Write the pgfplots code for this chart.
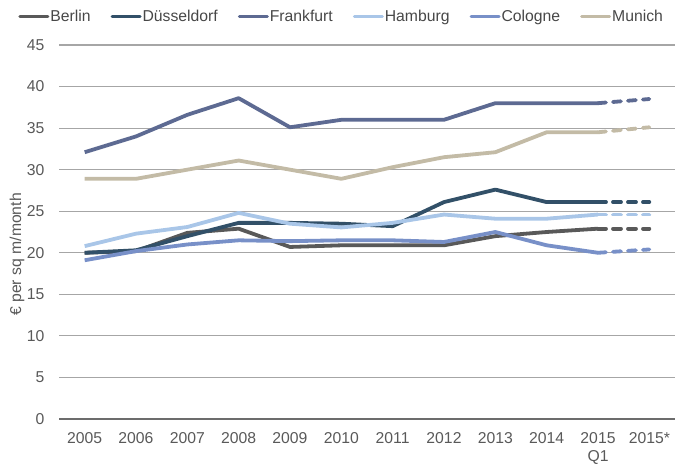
\documentclass[border=0pt]{standalone}
\usepackage{pgfplots}
\pgfplotsset{compat=1.18}
\usepackage{fontspec}
\setmainfont{Liberation Sans}

\definecolor{cBer}{HTML}{595959}
\definecolor{cDus}{HTML}{325068}
\definecolor{cFra}{HTML}{5D6A92}
\definecolor{cHam}{HTML}{A9C6E8}
\definecolor{cCol}{HTML}{7890C8}
\definecolor{cMun}{HTML}{C3BBA6}
\definecolor{txt}{HTML}{595959}
\definecolor{grd}{HTML}{A6A6A6}

\begin{document}
\begin{tikzpicture}
\path[use as bounding box] (-59bp,-48bp) rectangle (616bp,419bp);
\begin{axis}[
    scale only axis, width=616bp, height=374bp,
    xmin=-0.5, xmax=11.5, ymin=0, ymax=45,
    xtick={0,...,11},
    xticklabels={2005,2006,2007,2008,2009,2010,2011,2012,2013,2014,{2015\\Q1},2015*},
    ytick={0,5,...,45},
    font=\fontsize{15.8}{18}\selectfont,
    /pgf/number format/assume math mode=true,
    tick label style={text=txt},
    xticklabel style={align=center, yshift=-10bp},
    yticklabel style={xshift=-11bp},
    major tick length=0pt,
    axis x line*=bottom, axis y line*=left,
    x axis line style={draw=gray!85!black, line width=1.3bp, -},
    y axis line style={draw=none},
    ymajorgrids, grid style={draw=grd, line width=1.1bp},
    every axis y label/.style={at={(axis description cs:0,0.44)}, xshift=-42bp, rotate=90, anchor=center, text=txt},
    ylabel={€ per sq m/month},
    legend columns=6,
    legend style={draw=none, fill=none, at={(0.458,1.075)}, anchor=center,
        text=black!72, nodes={inner xsep=1bp},
        /tikz/every even column/.append style={column sep=19bp}},
    legend image code/.code={\draw[#1, line width=3bp, line cap=round] (0bp,0bp) -- (28bp,0bp);},
    every axis plot/.append style={line width=3.8bp, line join=round},
    clip=false,
]
% 2005 ... 2015 Q1 (0..10), 2015* (11) dashed
\addplot[cBer] coordinates {(0,20.0)(1,20.2)(2,22.4)(3,22.9)(4,20.7)(5,20.9)(6,20.9)(7,20.9)(8,22.0)(9,22.5)(10,22.9)};
\addlegendentry{Berlin}
\addplot[cDus] coordinates {(0,20.0)(1,20.3)(2,22.0)(3,23.6)(4,23.6)(5,23.5)(6,23.2)(7,26.1)(8,27.6)(9,26.1)(10,26.1)};
\addlegendentry{Düsseldorf}
\addplot[cFra] coordinates {(0,32.1)(1,34.0)(2,36.6)(3,38.6)(4,35.1)(5,36.0)(6,36.0)(7,36.0)(8,38.0)(9,38.0)(10,38.0)};
\addlegendentry{Frankfurt}
\addplot[cHam] coordinates {(0,20.8)(1,22.3)(2,23.1)(3,24.8)(4,23.5)(5,23.05)(6,23.6)(7,24.6)(8,24.1)(9,24.1)(10,24.6)};
\addlegendentry{Hamburg}
\addplot[cCol] coordinates {(0,19.1)(1,20.2)(2,21.0)(3,21.5)(4,21.4)(5,21.5)(6,21.5)(7,21.3)(8,22.5)(9,20.9)(10,20.0)};
\addlegendentry{Cologne}
\addplot[cMun] coordinates {(0,28.9)(1,28.9)(2,30.0)(3,31.1)(4,30.0)(5,28.9)(6,30.3)(7,31.5)(8,32.1)(9,34.5)(10,34.5)};
\addlegendentry{Munich}
% forecast 2015*
\addplot[cBer, forget plot, dash pattern=on 8bp off 7bp, line cap=round] coordinates {(10,22.9)(11,22.9)};
\addplot[cDus, forget plot, dash pattern=on 8bp off 7bp, line cap=round] coordinates {(10,26.1)(11,26.1)};
\addplot[cFra, forget plot, dash pattern=on 8bp off 7bp, line cap=round] coordinates {(10,38.0)(11,38.5)};
\addplot[cHam, forget plot, dash pattern=on 8bp off 7bp, line cap=round] coordinates {(10,24.6)(11,24.6)};
\addplot[cCol, forget plot, dash pattern=on 8bp off 7bp, line cap=round] coordinates {(10,20.0)(11,20.4)};
\addplot[cMun, forget plot, dash pattern=on 8bp off 7bp, line cap=round] coordinates {(10,34.5)(11,35.1)};
\end{axis}
\end{tikzpicture}
\end{document}
